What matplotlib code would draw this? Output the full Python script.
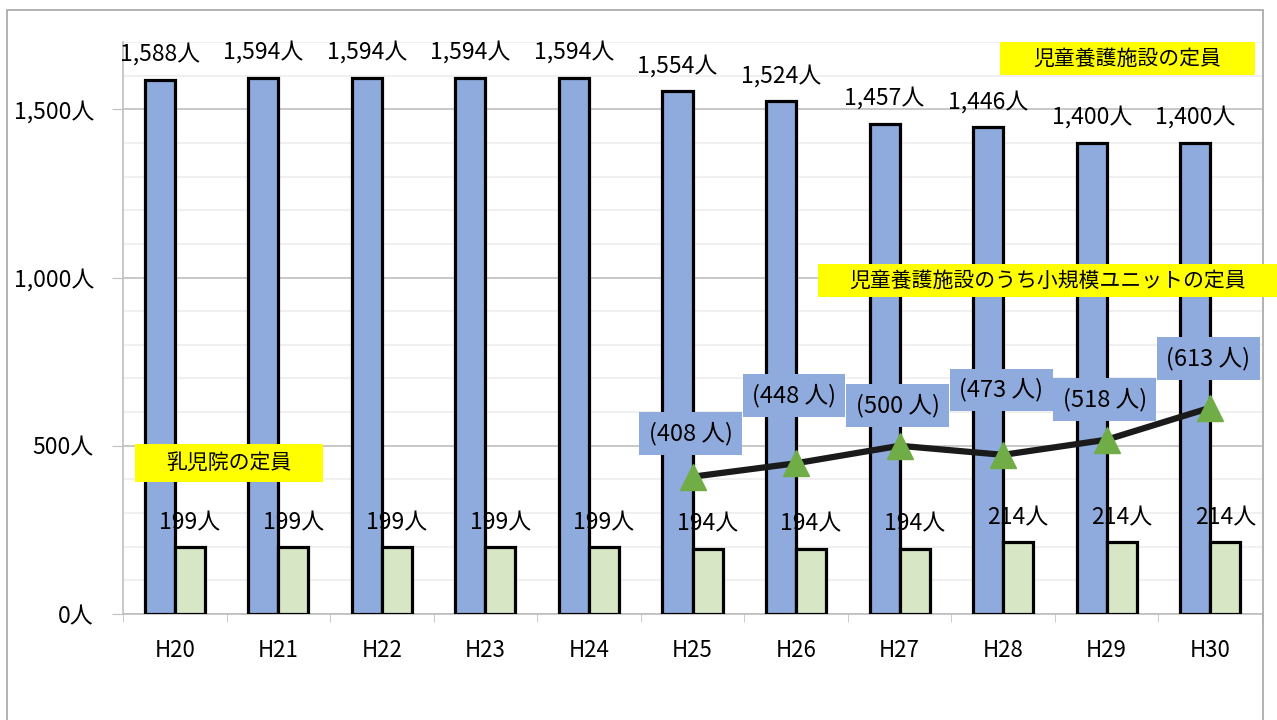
import numpy as np
import matplotlib
matplotlib.use("Agg")
import matplotlib.pyplot as plt
from matplotlib.patches import Rectangle
from matplotlib.ticker import MultipleLocator, FixedLocator, FuncFormatter

plt.rcParams['font.family'] = ['Noto Sans CJK JP', 'DejaVu Sans']

years = ["H20", "H21", "H22", "H23", "H24", "H25", "H26", "H27", "H28", "H29", "H30"]
yogo = [1588, 1594, 1594, 1594, 1594, 1554, 1524, 1457, 1446, 1400, 1400]
nyuji = [199, 199, 199, 199, 199, 194, 194, 194, 214, 214, 214]
unit_years = ["H25", "H26", "H27", "H28", "H29", "H30"]
unit = [408, 448, 500, 473, 518, 613]

# label offsets above the line points (pixels)
unit_label_dy = [43, 68, 40, 65, 40, 49]

BLUE = "#8FAADC"
GREEN = "#D7E7C6"
W, H = 1277, 720
px = 72 / 100  # points per pixel at dpi 100

fig = plt.figure(figsize=(W / 100, H / 100), dpi=100)
ax = fig.add_axes([123 / W, 106 / H, (1262 - 123) / W, (614 - 42) / H])

x = np.arange(len(years))
bw = 0.29
ax.bar(x - bw / 2, yogo, bw, color=BLUE, edgecolor="black", linewidth=2.3, zorder=3)
ax.bar(x + bw / 2, nyuji, bw, color=GREEN, edgecolor="black", linewidth=2.3, zorder=3)

for xi, v in zip(x, yogo):
    ax.annotate(f"{v:,}人", (xi - bw / 2, v), xytext=(0, 14 * px), textcoords="offset points",
                ha="center", va="bottom", fontsize=16.5, zorder=5)
for xi, v in zip(x, nyuji):
    ax.annotate(f"{v:,}人", (xi + bw / 2, v), xytext=(0, 13 * px), textcoords="offset points",
                ha="center", va="bottom", fontsize=16.5, zorder=5)

ux = [years.index(y) for y in unit_years]
ax.plot(ux, unit, color="#1a1a1a", linewidth=4.5, zorder=6)
ax.plot(ux, unit, linestyle="none", marker="^", markersize=19, color="#70AD47", zorder=7)
for xi, v, dy in zip(ux, unit, unit_label_dy):
    ax.annotate(f"({v} 人)", (xi, v), xytext=(-2 * px, dy * px), textcoords="offset points",
                ha="center", va="center", fontsize=17, zorder=8,
                bbox=dict(boxstyle="square,pad=0.4", facecolor=BLUE, edgecolor="none"))

ax.set_xlim(-0.5, len(years) - 0.5)
ax.set_ylim(0, 1700)
ax.yaxis.set_major_locator(FixedLocator([0, 500, 1000, 1500]))
ax.yaxis.set_minor_locator(MultipleLocator(100))
ax.yaxis.set_major_formatter(FuncFormatter(lambda v, p: f"{int(v):,}人"))
ax.grid(which="major", axis="y", color="#BFBFBF", linewidth=1.2, zorder=0)
ax.grid(which="minor", axis="y", color="#EEEEEE", linewidth=1.2, zorder=0)
ax.tick_params(axis="y", which="major", length=8, color="#BFBFBF", labelsize=16.5, pad=13)
ax.tick_params(axis="y", which="minor", length=0)

ax.set_xticks(x)
ax.set_xticklabels(years)
ax.xaxis.set_minor_locator(FixedLocator(np.arange(-0.5, len(years), 1.0)))
ax.tick_params(axis="x", which="major", length=0, labelsize=16, pad=18)
ax.tick_params(axis="x", which="minor", length=6, color="#BFBFBF", direction="out")

for s in ["top", "right"]:
    ax.spines[s].set_visible(False)
ax.spines["left"].set_color("#BFBFBF")
ax.spines["bottom"].set_color("#BFBFBF")
ax.spines["left"].set_linewidth(1.2)
ax.spines["bottom"].set_linewidth(1.2)

# outer chart border
fig.add_artist(Rectangle((7 / W, -0.05), (1263 - 7) / W, 1.05 - 10 / H, transform=fig.transFigure,
                         facecolor="none", edgecolor="#A6A6A6", linewidth=1.2))


def tag(x0, y0, x1, y1, text):
    fig.add_artist(Rectangle((x0 / W, 1 - y1 / H), (x1 - x0) / W, (y1 - y0) / H,
                             transform=fig.transFigure, facecolor="#FFFF00", edgecolor="none", zorder=10))
    fig.text((x0 + x1) / 2 / W, 1 - (y0 + y1) / 2 / H, text, ha="center", va="center",
             fontsize=15, zorder=11)


tag(1000, 42, 1255, 75, "児童養護施設の定員")
tag(818, 264, 1277, 297, "児童養護施設のうち小規模ユニットの定員")
tag(135, 444, 323, 482, "乳児院の定員")

fig.savefig("out.png", dpi=100)
